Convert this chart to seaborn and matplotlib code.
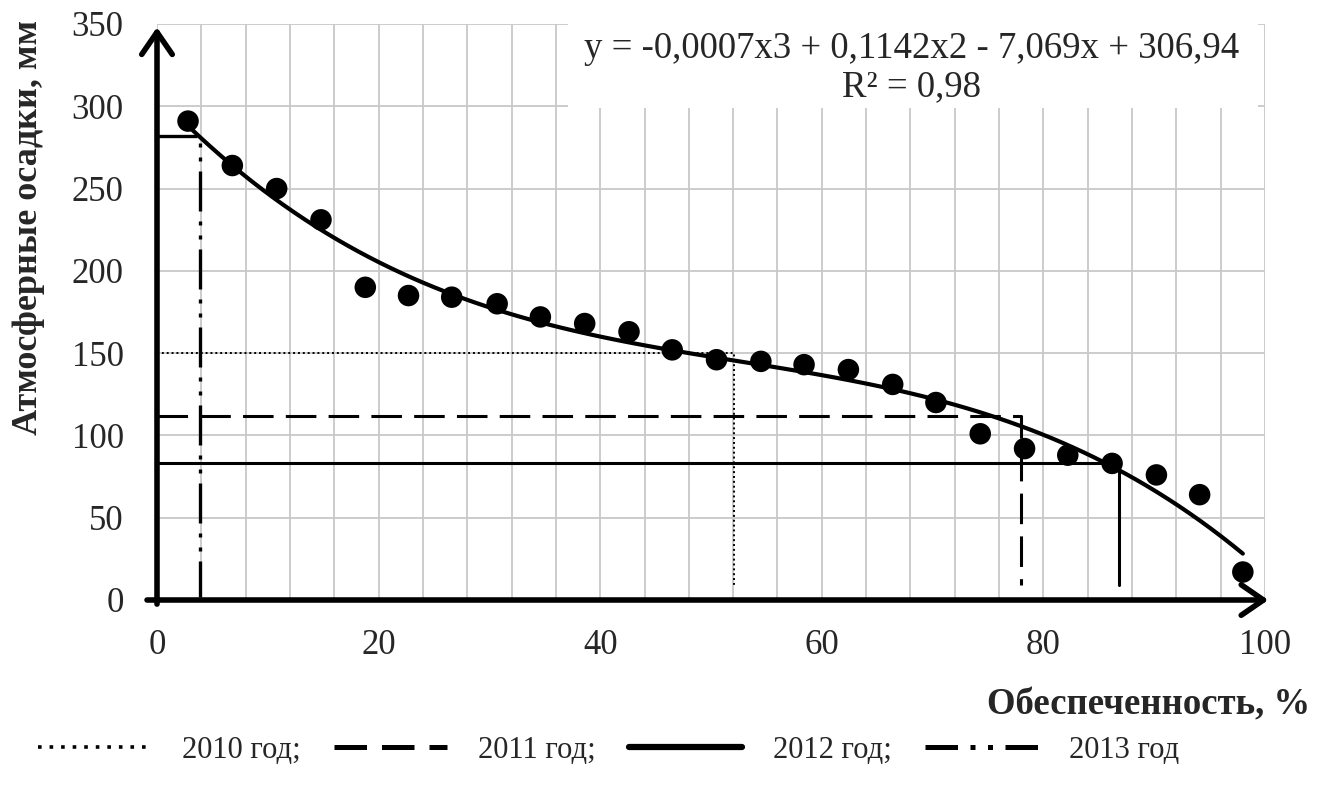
import matplotlib
matplotlib.use("Agg")
import matplotlib.pyplot as plt
import seaborn as sns
import numpy as np
import pandas as pd
from matplotlib.patches import Rectangle

# ---- data ----
supply_pct = [2.8, 6.8, 10.8, 14.8, 18.8, 22.7, 26.6, 30.7, 34.6, 38.6, 42.6, 46.5,
              50.5, 54.5, 58.4, 62.4, 66.4, 70.3, 74.3, 78.3, 82.2, 86.2, 90.2, 94.1, 98.0]
precip_mm = [291, 264, 250, 231, 190, 185, 184, 180, 172, 168, 163, 152,
             146, 145, 143, 140, 131, 120, 101, 92, 88, 83, 76, 64, 17]

year_labels = ["2010 год;", "2011 год;", "2012 год;", "2013 год"]
year_precip = [150, 112, 83, 282]
year_supply = [52.1, 78.0, 86.8, 3.9]
year_bottom = [9, 9, 9, 2]

x_ticks = [0, 20, 40, 60, 80, 100]
y_ticks = [0, 50, 100, 150, 200, 250, 300, 350]
equation = "y = -0,0007x3 + 0,1142x2 - 7,069x + 306,94"
r2_text = "R² = 0,98"

df = pd.DataFrame({"x": supply_pct, "y": precip_mm})

sns.set_style("white")
plt.rcParams['font.family'] = ['Liberation Serif', 'DejaVu Serif']

fig = plt.figure(figsize=(13.3, 7.89), dpi=100)
ax = fig.add_axes([157/1330, 1-600/789, (1265-157)/1330, (600-24)/789])

# grid
ax.set_xlim(0, 100)
ax.set_ylim(0, 350)
ax.set_xticks(x_ticks)
ax.set_xticks(np.arange(0, 101, 4), minor=True)
ax.set_yticks(y_ticks)
ax.grid(True, which='both', color='#c8c8c8', lw=1.3, zorder=0)
ax.set_axisbelow(True)
for s in ax.spines.values():
    s.set_visible(False)

# equation box
ax.add_patch(Rectangle((37.1, 299.0), 62.3, 52.5, facecolor='white', edgecolor='none',
                       zorder=1.5, clip_on=False))
ax.text(68.1, 335, equation, ha='center', va='center', fontsize=26.5, zorder=3)
ax.text(68.1, 312, r2_text, ha='center', va='center', fontsize=26.5, zorder=3)

# data + cubic trend
sns.regplot(data=df, x="x", y="y", order=3, ci=None, ax=ax,
            scatter_kws=dict(s=240, color='black', edgecolor='none', alpha=1, zorder=5),
            line_kws=dict(color='black', lw=3, zorder=4))

# year reference lines
styles = [dict(ls=(0, (1, 1.5)), lw=1.4),
          dict(ls=(0, (10, 4)), lw=2.2),
          dict(ls='-', lw=2.2),
          dict(ls=(0, (12, 3, 1.2, 3, 1.2, 3)), lw=2.4)]
handles = []
for lab, yv, xv, yb, st in zip(year_labels, year_precip, year_supply, year_bottom, styles):
    ln, = ax.plot([0, xv, xv], [yv, yv, yb], color='black', zorder=3, label=lab, **st)
    handles.append(ln)

# axes with arrows
arrow = dict(arrowstyle='->,head_length=0.8,head_width=0.55', lw=4, color='black',
             shrinkA=0, shrinkB=0, mutation_scale=20)
ax.annotate('', xy=(100.3, 0), xytext=(-0.9, 0), arrowprops=arrow, annotation_clip=False, zorder=6)
ax.annotate('', xy=(0, 348), xytext=(0, -2.5), arrowprops=arrow, annotation_clip=False, zorder=6)

ax.tick_params(axis='x', which='major', direction='out', length=8, width=4, pad=13,
               labelsize=25, color='black')
ax.tick_params(axis='y', which='major', direction='out', length=10, width=4, pad=14,
               labelsize=25, color='black')
ax.tick_params(which='minor', length=0)
ax.set_xlabel("")
ax.set_ylabel("")

fig.text(29/1330, 1-227/789, "Атмосферные осадки, мм", rotation=90, ha='center', va='center',
         fontsize=26, fontweight='bold')
fig.text(1310/1330, 1-705/789, "Обеспеченность, %", ha='right', va='center',
         fontsize=26.5, fontweight='bold')

# legend
leg_styles = [dict(ls=(0, (1, 2.2)), lw=2.6),
              dict(ls=(0, (6.5, 3)), lw=3.6),
              dict(ls='-', lw=4.5),
              dict(ls=(0, (6.5, 2.5, 1, 2.5, 1, 2.5)), lw=3.6)]
leg_handles = [plt.Line2D([], [], color='black', **st) for st in leg_styles]
fig.legend(leg_handles, year_labels, loc='center left', bbox_to_anchor=(38/1330, 1-750/789),
           ncol=4, frameon=False, fontsize=22, handlelength=3.7, handletextpad=1.0,
           columnspacing=1.1, borderpad=0, borderaxespad=0)

fig.savefig("out.png", dpi=100)
